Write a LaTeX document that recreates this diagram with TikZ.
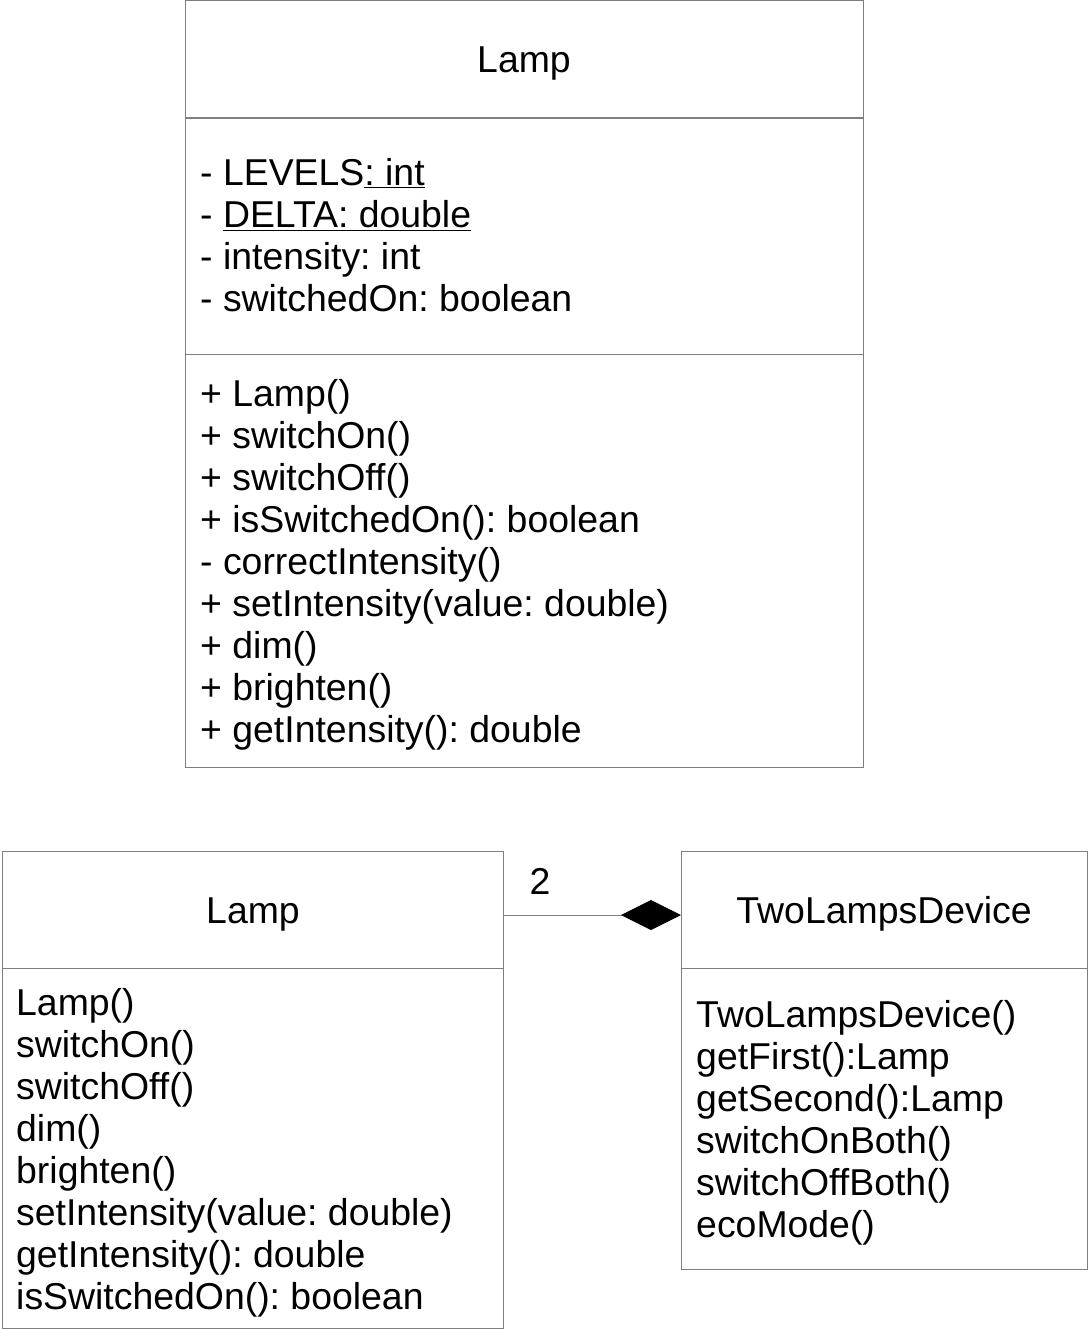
\documentclass[tikz,border=0pt]{standalone}
\usepackage{fontspec}
\setmainfont{Liberation Sans}
\usetikzlibrary{arrows.meta}
\definecolor{bordergray}{HTML}{7F7F7F}
\frenchspacing
\begin{document}
\begin{tikzpicture}[x=1pt,y=-1pt,
  part/.style={draw=bordergray, line width=1pt, anchor=north west, inner sep=0pt, outer sep=0pt},
  txt/.style={anchor=base west, inner sep=0pt, font=\fontsize{37.4}{42}\selectfont\frenchspacing},
  ttl/.style={anchor=base, inner sep=0pt, font=\fontsize{37.4}{42}\selectfont},
  comp/.style={draw=bordergray, line width=1pt, -{Diamond[length=60pt,width=30pt,color=black]}}]
\useasboundingbox (0,0) rectangle (1090,1329);
% ---- top class ----
\node[part, minimum width=678pt, minimum height=118pt] (topHead) at (185,0.5) {};
\node[part, minimum width=678pt, minimum height=236pt] (topAttr) at (185,118) {};
\node[part, minimum width=678pt, minimum height=413pt] (topOps) at (185,354) {};
\node[ttl] (topTitle) at (524,73) {Lamp};
\node[txt] (a1) at (200,186) {- LEVELS\underline{: int}};
\node[txt] (a2) at (200,228) {- \underline{DELTA: double}};
\node[txt] (a3) at (200,270) {- intensity: int};
\node[txt] (a4) at (200,312) {- switchedOn: boolean};
\foreach \t [count=\i] in {+ Lamp(), + switchOn(), + switchOff(), + isSwitchedOn(): boolean,
  - correctIntensity(), + setIntensity(value: double), + dim(), + brighten(), + getIntensity(): double}
  \node[txt] (m\i) at (200,{364+42*\i}) {\t};
% ---- bottom left class ----
\node[part, minimum width=501pt, minimum height=117pt] (lampBhead) at (2,851) {};
\node[part, minimum width=501pt, minimum height=360pt] (lampBops) at (2,968) {};
\node[ttl] (lampBtitle) at (253,923) {Lamp};
\foreach \t [count=\i] in {Lamp(), switchOn(), switchOff(), dim(), brighten(),
  setIntensity(value: double), getIntensity(): double, isSwitchedOn(): boolean}
  \node[txt] (b\i) at (16,{973+42*\i}) {\t};
% ---- bottom right class ----
\node[part, minimum width=406pt, minimum height=117pt] (tldhead) at (681,851) {};
\node[part, minimum width=406pt, minimum height=301pt] (tldops) at (681,968) {};
\node[ttl] (tldtitle) at (884,923) {TwoLampsDevice};
\foreach \t [count=\i] in {TwoLampsDevice(), getFirst():Lamp, getSecond():Lamp,
  switchOnBoth(), switchOffBoth(), ecoMode()}
  \node[txt] (c\i) at (696,{985+42*\i}) {\t};
% ---- composition ----
\draw[comp] ([yshift=-5.5pt]lampBhead.east) -- ([yshift=-5.5pt]tldhead.west);
\node[ttl] (mult) at (540,894) {2};
\end{tikzpicture}
\end{document}
